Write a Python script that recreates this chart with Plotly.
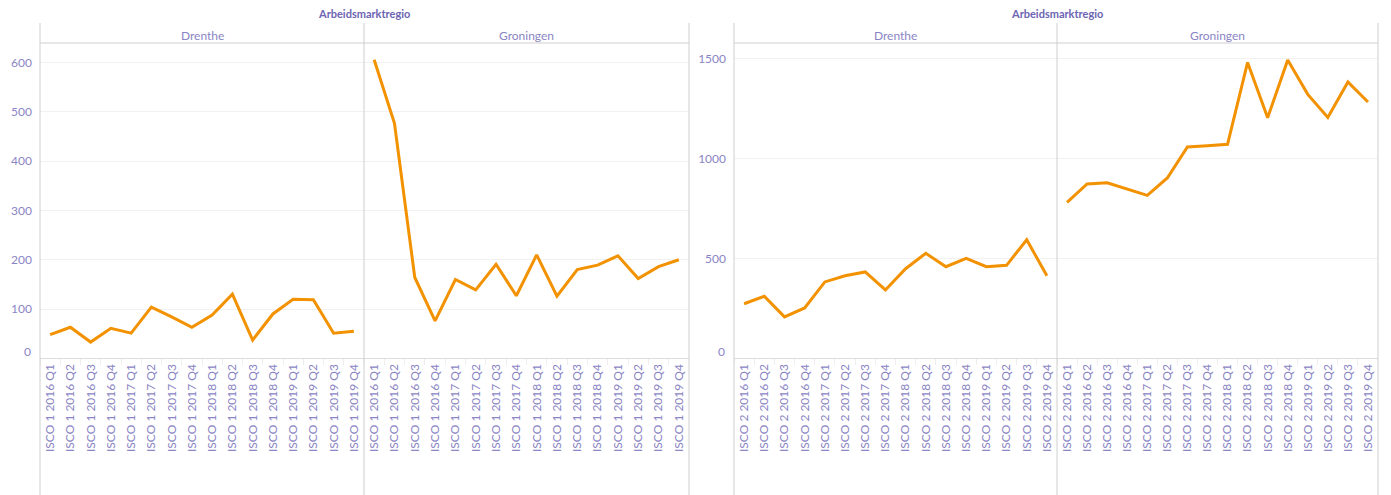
import plotly.graph_objects as go

W, H = 1391, 495
OFF = 8  # page body margin

quarters = ["2016 Q1", "2016 Q2", "2016 Q3", "2016 Q4",
            "2017 Q1", "2017 Q2", "2017 Q3", "2017 Q4",
            "2018 Q1", "2018 Q2", "2018 Q3", "2018 Q4",
            "2019 Q1", "2019 Q2", "2019 Q3", "2019 Q4"]
labels_isco1 = [f"ISCO 1 {q}" for q in quarters]
labels_isco2 = [f"ISCO 2 {q}" for q in quarters]

regions = ["Drenthe", "Groningen"]
header_title = "Arbeidsmarktregio"

isco1_drenthe = [48, 63, 33, 61, 51, 104, 84, 63, 88, 130, 37, 90, 120, 119, 51, 55]
isco1_groningen = [606, 477, 164, 76, 160, 139, 191, 127, 210, 126, 180, 189, 208, 162, 186, 200]
isco2_drenthe = [273, 310, 207, 252, 382, 413, 432, 342, 448, 525, 458, 500, 458, 465, 593, 413]
isco2_groningen = [780, 872, 878, 848, 815, 902, 1057, 1063, 1070, 1480, 1203, 1492, 1320, 1205, 1382, 1282]

ticks_left = [100, 200, 300, 400, 500, 600]
ticks_right = [500, 1000, 1500]

ORANGE = "#f39200"
TICK = "#8a85c4"
TITLE = "#6c65b2"
LINE = "#cfcfcf"
GRID = "#f1f1f1"
FONT = "Lato"

def fx(p):
    return (p - OFF) / W

def fy(p):
    return 1 - (p - OFF) / H

top_px, bot_px = 43, 358.3
ydom = [fy(bot_px), fy(top_px)]
panels = [(40, 364), (364, 689), (734, 1057), (1057, 1378)]

fig = go.Figure()
series = [(labels_isco1, isco1_drenthe), (labels_isco1, isco1_groningen),
          (labels_isco2, isco2_drenthe), (labels_isco2, isco2_groningen)]
for i, (cats, vals) in enumerate(series):
    sfx = "" if i == 0 else str(i + 1)
    fig.add_trace(go.Scatter(x=cats, y=vals, mode="lines",
                             line=dict(color=ORANGE, width=3),
                             xaxis="x" + sfx, yaxis="y" + sfx,
                             showlegend=False, hoverinfo="x+y"))

layout = dict(width=W, height=H, margin=dict(l=0, r=0, t=0, b=0),
              paper_bgcolor="white", plot_bgcolor="white",
              font=dict(family=FONT, color=TICK, size=12))

for i, (x0, x1) in enumerate(panels):
    sfx = "" if i == 0 else str(i + 1)
    cats = labels_isco1 if i < 2 else labels_isco2
    layout["xaxis" + sfx] = dict(
        domain=[fx(x0), fx(x1)], anchor="y" + sfx, type="category",
        categoryorder="array", categoryarray=cats,
        range=[-0.5, len(cats) - 0.5], tickangle=-90,
        tickfont=dict(family=FONT, size=12, color=TICK),
        showgrid=False, zeroline=False, showline=True, linecolor="#dcdcdc",
        linewidth=1, ticks="outside", tickson="boundaries", ticklen=6,
        tickcolor="#eeeeee", fixedrange=True)
    ydict = dict(domain=ydom, anchor="x" + sfx, showgrid=True, gridcolor=GRID,
                 gridwidth=1, zeroline=False, showline=False, fixedrange=True,
                 tickfont=dict(family=FONT, size=12, color=TICK), ticks="",
                 ticklabelstandoff=7)
    if i < 2:
        ydict.update(range=[0, 640], tickmode="array", tickvals=ticks_left)
    else:
        ydict.update(range=[0, 1577], tickmode="array", tickvals=ticks_right)
    if i in (1, 3):
        ydict.update(showticklabels=False)
    layout["yaxis" + sfx] = ydict

fig.update_layout(**layout)

shapes = []
for xp in [40, 364, 689, 734, 1057, 1378]:
    shapes.append(dict(type="line", xref="paper", yref="paper",
                       x0=fx(xp), x1=fx(xp), y0=fy(H), y1=fy(23),
                       line=dict(color=LINE, width=1)))
for a, b in [(40, 689), (734, 1378)]:
    shapes.append(dict(type="line", xref="paper", yref="paper",
                       x0=fx(a), x1=fx(b), y0=fy(top_px), y1=fy(top_px),
                       line=dict(color=LINE, width=1)))
fig.update_layout(shapes=shapes)

ann = []
for cx in [364, 1057]:
    ann.append(dict(text=f"<b>{header_title}</b>", x=fx(cx), y=fy(14), xref="paper", yref="paper",
                    showarrow=False, xanchor="center", yanchor="middle",
                    font=dict(family=FONT, size=11, color=TITLE)))
for i, (x0, x1) in enumerate(panels):
    ann.append(dict(text=regions[i % 2], x=fx((x0 + x1) / 2), y=fy(35), xref="paper", yref="paper",
                    showarrow=False, xanchor="center", yanchor="middle",
                    font=dict(family=FONT, size=12, color=TICK)))
for ax_x, yref in [(40, "y"), (734, "y3")]:
    ann.append(dict(text="0", x=fx(ax_x - 7), y=0, xref="paper", yref=yref,
                    showarrow=False, xanchor="right", yanchor="middle", yshift=7,
                    font=dict(family=FONT, size=12, color=TICK)))
fig.update_layout(annotations=ann)

fig.write_html("out.html")
